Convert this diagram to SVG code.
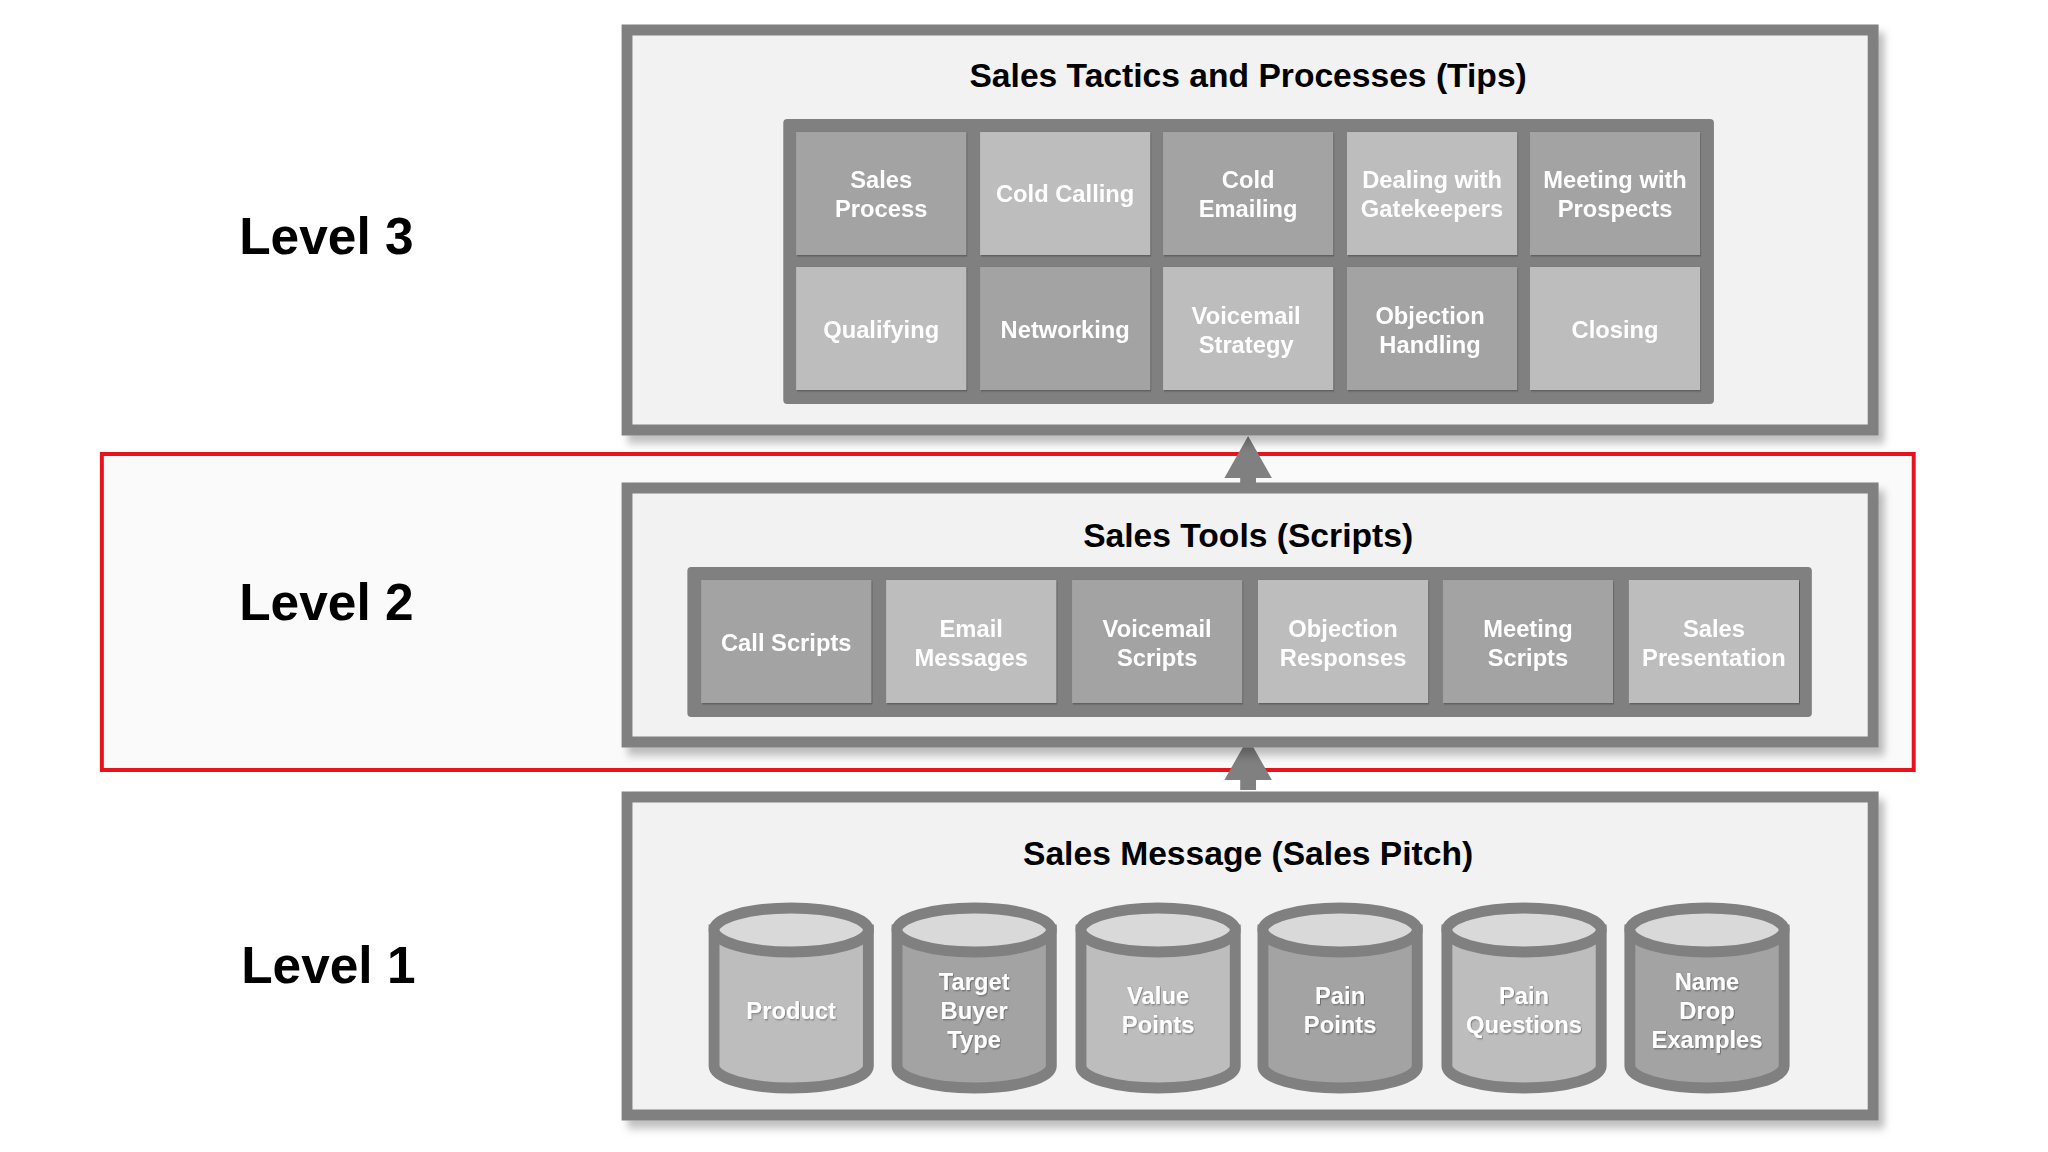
<svg xmlns="http://www.w3.org/2000/svg" width="2048" height="1152" viewBox="0 0 2048 1152">
<style>
.box{fill:#f2f2f2;stroke:#808080;stroke-width:11}
.grid{fill:#808080}
.d{fill:#a3a3a3}
.l{fill:#bdbdbd}
.t{font-family:"Liberation Sans",Arial,sans-serif;font-weight:bold;fill:#fff;font-size:24px;text-anchor:middle}
.h{font-family:"Liberation Sans",Arial,sans-serif;font-weight:bold;fill:#000;font-size:34px;text-anchor:middle}
.lv{font-family:"Liberation Sans",Arial,sans-serif;font-weight:bold;fill:#000;font-size:52px;text-anchor:middle}
.cyl{stroke:#808080;stroke-width:11}
.top{fill:#d9d9d9;stroke:#808080;stroke-width:11}
</style>
<defs>
<filter id="sh" x="-5%" y="-5%" width="112%" height="115%"><feDropShadow dx="6" dy="8" stdDeviation="4" flood-color="#000" flood-opacity="0.25"/></filter>
<filter id="ts"><feDropShadow dx="1" dy="1" stdDeviation="0.8" flood-color="#000" flood-opacity="0.35"/></filter>
</defs>
<rect width="2048" height="1152" fill="#fff"/>
<g transform="matrix(0.989,0,0,1,0,0)">
<rect x="103" y="454" width="1832" height="316" fill="#fafafa" stroke="#e8141c" stroke-width="4"/>
<g class="lv">
<text x="330" y="254">Level 3</text>
<text x="330" y="620">Level 2</text>
<text x="332" y="983">Level 1</text>
</g>
<g id="connectors" fill="#808080">
<polygon points="1262,436 1286,478 1270,478 1270,488 1254,488 1254,478 1238,478"/>
<polygon points="1262,738 1286,780 1270,780 1270,790 1254,790 1254,780 1238,780"/>
</g>
<g id="level3">
<rect class="box" x="634" y="30" width="1260" height="400" filter="url(#sh)"/>
<text class="h" x="1262" y="87">Sales Tactics and Processes (Tips)</text>
<rect class="grid" x="792" y="119" width="941" height="285" rx="4"/>
<g filter="url(#ts)">
<rect class="d" x="805" y="132" width="172" height="123"/><text class="t" x="891" y="188">Sales</text><text class="t" x="891" y="217">Process</text>
<rect class="l" x="991" y="132" width="172" height="123"/><text class="t" x="1077" y="202">Cold Calling</text>
<rect class="d" x="1176" y="132" width="172" height="123"/><text class="t" x="1262" y="188">Cold</text><text class="t" x="1262" y="217">Emailing</text>
<rect class="l" x="1362" y="132" width="172" height="123"/><text class="t" x="1448" y="188">Dealing with</text><text class="t" x="1448" y="217">Gatekeepers</text>
<rect class="d" x="1547" y="132" width="172" height="123"/><text class="t" x="1633" y="188">Meeting with</text><text class="t" x="1633" y="217">Prospects</text>
<rect class="l" x="805" y="267" width="172" height="123"/><text class="t" x="891" y="338">Qualifying</text>
<rect class="d" x="991" y="267" width="172" height="123"/><text class="t" x="1077" y="338">Networking</text>
<rect class="l" x="1176" y="267" width="172" height="123"/><text class="t" x="1260" y="324">Voicemail</text><text class="t" x="1260" y="353">Strategy</text>
<rect class="d" x="1362" y="267" width="172" height="123"/><text class="t" x="1446" y="324">Objection</text><text class="t" x="1446" y="353">Handling</text>
<rect class="l" x="1547" y="267" width="172" height="123"/><text class="t" x="1633" y="338">Closing</text>
</g>
</g>
<g id="level2" transform="translate(0,-5)">
<rect class="box" x="634" y="493" width="1260" height="254" filter="url(#sh)"/>
<text class="h" x="1262" y="552">Sales Tools (Scripts)</text>
<rect class="grid" x="695" y="572" width="1137" height="150" rx="4"/>
<g filter="url(#ts)">
<rect class="d" x="709" y="585" width="172" height="123"/><text class="t" x="795" y="656">Call Scripts</text>
<rect class="l" x="896" y="585" width="172" height="123"/><text class="t" x="982" y="642">Email</text><text class="t" x="982" y="671">Messages</text>
<rect class="d" x="1084" y="585" width="172" height="123"/><text class="t" x="1170" y="642">Voicemail</text><text class="t" x="1170" y="671">Scripts</text>
<rect class="l" x="1272" y="585" width="172" height="123"/><text class="t" x="1358" y="642">Objection</text><text class="t" x="1358" y="671">Responses</text>
<rect class="d" x="1459" y="585" width="172" height="123"/><text class="t" x="1545" y="642">Meeting</text><text class="t" x="1545" y="671">Scripts</text>
<rect class="l" x="1647" y="585" width="172" height="123"/><text class="t" x="1733" y="642">Sales</text><text class="t" x="1733" y="671">Presentation</text>
</g>
</g>
<g id="level1" transform="translate(0,-13)">
<rect class="box" x="634" y="810" width="1260" height="318" filter="url(#sh)"/>
<text class="h" x="1262" y="878">Sales Message (Sales Pitch)</text>
<g id="cyl-product"><path class="cyl l" d="M722,943 V1079 A78,22 0 0 0 878,1079 V943 Z"/><ellipse class="top" cx="800" cy="943" rx="78" ry="22"/><text class="t" x="800" y="1032" filter="url(#ts)">Product</text></g>
<g id="cyl-target"><path class="cyl d" d="M907,943 V1079 A78,22 0 0 0 1063,1079 V943 Z"/><ellipse class="top" cx="985" cy="943" rx="78" ry="22"/><g filter="url(#ts)"><text class="t" x="985" y="1003">Target</text><text class="t" x="985" y="1032">Buyer</text><text class="t" x="985" y="1061">Type</text></g></g>
<g id="cyl-value"><path class="cyl l" d="M1093,943 V1079 A78,22 0 0 0 1249,1079 V943 Z"/><ellipse class="top" cx="1171" cy="943" rx="78" ry="22"/><g filter="url(#ts)"><text class="t" x="1171" y="1017">Value</text><text class="t" x="1171" y="1046">Points</text></g></g>
<g id="cyl-pain"><path class="cyl d" d="M1277,943 V1079 A78,22 0 0 0 1433,1079 V943 Z"/><ellipse class="top" cx="1355" cy="943" rx="78" ry="22"/><g filter="url(#ts)"><text class="t" x="1355" y="1017">Pain</text><text class="t" x="1355" y="1046">Points</text></g></g>
<g id="cyl-questions"><path class="cyl l" d="M1463,943 V1079 A78,22 0 0 0 1619,1079 V943 Z"/><ellipse class="top" cx="1541" cy="943" rx="78" ry="22"/><g filter="url(#ts)"><text class="t" x="1541" y="1017">Pain</text><text class="t" x="1541" y="1046">Questions</text></g></g>
<g id="cyl-name"><path class="cyl d" d="M1648,943 V1079 A78,22 0 0 0 1804,1079 V943 Z"/><ellipse class="top" cx="1726" cy="943" rx="78" ry="22"/><g filter="url(#ts)"><text class="t" x="1726" y="1003">Name</text><text class="t" x="1726" y="1032">Drop</text><text class="t" x="1726" y="1061">Examples</text></g></g>
</g>
</g>
</svg>
